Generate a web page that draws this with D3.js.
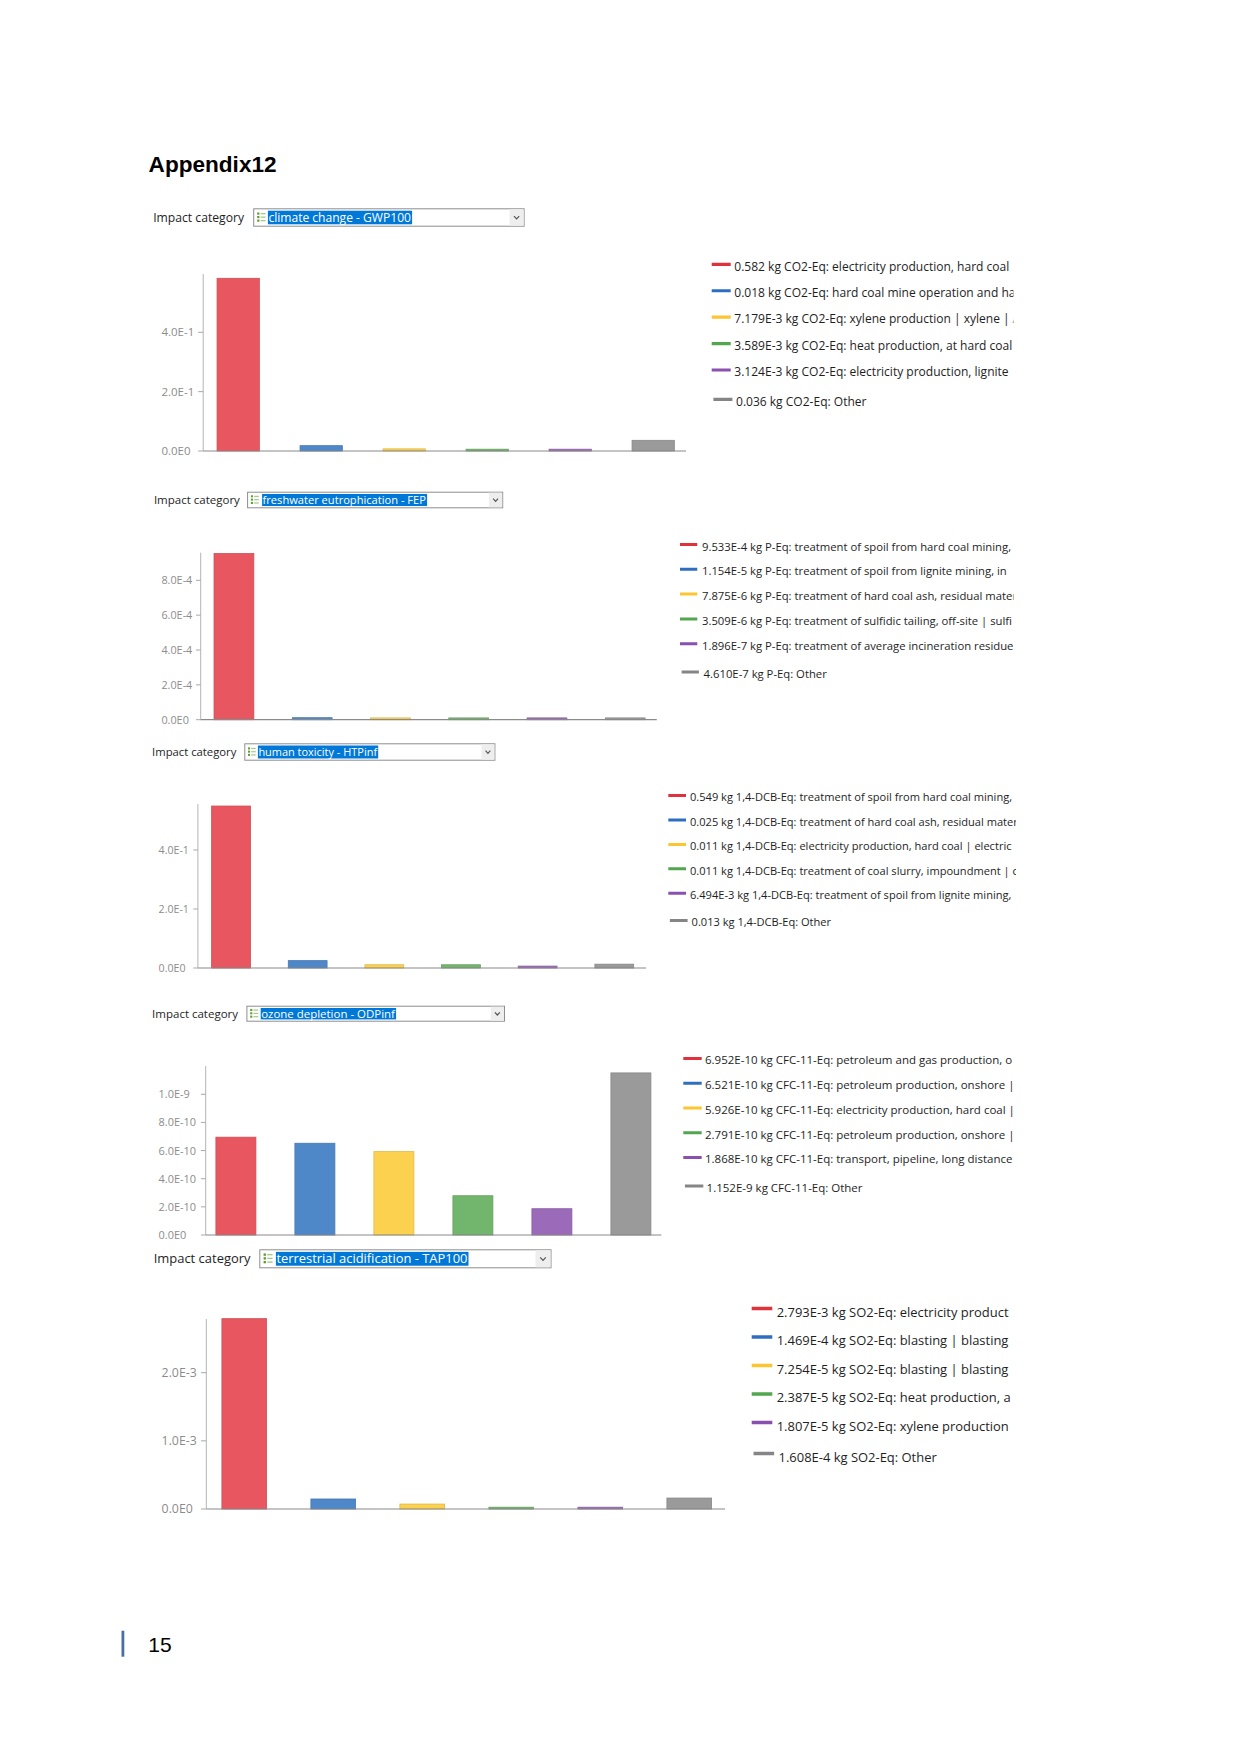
<!DOCTYPE html>
<html><head><meta charset="utf-8">
<script src="https://cdn.jsdelivr.net/npm/d3@7"></script>
<style>
html,body{margin:0;padding:0;background:#fff;}
svg{display:block;}
</style></head><body>
<svg id="page" width="1241" height="1754"></svg>
<script>
// ---------------- DATA ----------------
const pageTitle = "Appendix12";
const pageNumber = "15";
const selectorLabel = "Impact category";

const categories = [
  "climate change - GWP100",
  "freshwater eutrophication - FEP",
  "human toxicity - HTPinf",
  "ozone depletion - ODPinf",
  "terrestrial acidification - TAP100"
];
const units = ["kg CO2-Eq", "kg P-Eq", "kg 1,4-DCB-Eq", "kg CFC-11-Eq", "kg SO2-Eq"];

const climateValues = [0.582, 0.018, 7.179e-3, 3.589e-3, 3.124e-3, 0.036];
const eutroValues   = [9.533e-4, 1.154e-5, 7.875e-6, 3.509e-6, 1.896e-7, 4.610e-7];
const toxValues     = [0.549, 0.025, 0.011, 0.011, 6.494e-3, 0.013];
const ozoneValues   = [6.952e-10, 6.521e-10, 5.926e-10, 2.791e-10, 1.868e-10, 1.152e-9];
const acidValues    = [2.793e-3, 1.469e-4, 7.254e-5, 2.387e-5, 1.807e-5, 1.608e-4];

const climateNames = [
  "electricity production, hard coal",
  "hard coal mine operation and ha",
  "xylene production | xylene | A",
  "heat production, at hard coal",
  "electricity production, lignite",
  "Other"
];
const eutroNames = [
  "treatment of spoil from hard coal mining,",
  "treatment of spoil from lignite mining, in",
  "treatment of hard coal ash, residual mater",
  "treatment of sulfidic tailing, off-site | sulfi",
  "treatment of average incineration residue",
  "Other"
];
const toxNames = [
  "treatment of spoil from hard coal mining,",
  "treatment of hard coal ash, residual mater",
  "electricity production, hard coal | electric",
  "treatment of coal slurry, impoundment | c",
  "treatment of spoil from lignite mining,",
  "Other"
];
const ozoneNames = [
  "petroleum and gas production, o",
  "petroleum production, onshore |",
  "electricity production, hard coal |",
  "petroleum production, onshore |",
  "transport, pipeline, long distance",
  "Other"
];
const acidNames = [
  "electricity product",
  "blasting | blasting |",
  "blasting | blasting |",
  "heat production, a",
  "xylene production",
  "Other"
];

const climateTicks = [0, 0.2, 0.4];
const eutroTicks   = [0, 2e-4, 4e-4, 6e-4, 8e-4];
const toxTicks     = [0, 0.2, 0.4];
const ozoneTicks   = [0, 2e-10, 4e-10, 6e-10, 8e-10, 1e-9];
const acidTicks    = [0, 1e-3, 2e-3];

// ---------------- STYLE / LAYOUT ----------------
const barFill = ["#e8575f", "#4f88c9", "#fdd150", "#72b56c", "#9b6bb9", "#9a9a9a"];
const swatchColor = ["#e0323c", "#2e6ec0", "#fdc630", "#52a64e", "#8950b0", "#858585"];
const uiFont = "'Open Sans', 'Noto Sans', sans-serif";

const layouts = [
  {s:1.0, labelX:153.2, labelW:91, ddX:253.2, ddY:208.3, ddW:271.4, ddH:18.4, hlX:267.9, hlW:144.2,
   axisX:203.2, top:274, base:451, dMax:0.5965, x0:196.7, step:83, bw:42.3, axisEnd:686, tickX:161.4,
   swX:711.7, swLen:19, textX:734.3, rowY0:264.3, rowDy:26.43, lastGap:29.3, otherW:130.7, clipR:1013.5, textDy:6.3},
  {s:0.943, labelX:153.9, labelW:86, ddX:247.1, ddY:491.7, ddW:256.1, ddH:16.6, hlX:262.1, hlW:165,
   axisX:200.7, top:552.7, base:719.7, dMax:9.584e-4, x0:194.8, step:78.26, bw:39.8, axisEnd:656.8, tickX:161.4,
   swX:680, swLen:17.3, textX:702, rowY0:544.5, rowDy:24.8, lastGap:28.3, otherW:123.3, clipR:1013.5, textDy:6},
  {s:0.9235, labelX:152.1, labelW:84.3, ddX:244.3, ddY:743.3, ddW:251.1, ddH:17.4, hlX:257.9, hlW:120.3,
   axisX:197.9, top:804, base:968, dMax:0.5559, x0:192.7, step:76.65, bw:38.8, axisEnd:646, tickX:158.6,
   swX:668.3, swLen:17.7, textX:690, rowY0:795.5, rowDy:24.45, lastGap:27.3, otherW:139.7, clipR:1016, textDy:5.8},
  {s:0.952, labelX:152.1, labelW:86, ddX:246.4, ddY:1005.7, ddW:258.6, ddH:16, hlX:260.7, hlW:135.4,
   axisX:205.7, top:1066, base:1235, dMax:1.2011e-9, x0:196.4, step:79, bw:40, axisEnd:661.4, tickX:158.6,
   swX:683.3, swLen:18.4, textX:705, rowY0:1058.5, rowDy:24.75, lastGap:28.4, otherW:156, clipR:1013.5, textDy:5.8},
  {s:1.072, labelX:153.7, labelW:96.9, ddX:259.3, ddY:1249.3, ddW:292.2, ddH:19, hlX:275.9, hlW:192.6,
   axisX:206.3, top:1319, base:1509, dMax:2.788e-3, x0:199.75, step:89, bw:44.7, axisEnd:725, tickX:161.6,
   swX:751.7, swLen:20.6, textX:776.7, rowY0:1308.5, rowDy:28.5, lastGap:31, otherW:158.3, clipR:1013.5, textDy:8}
];

const panels = [
  {cat:categories[0], unit:units[0], values:climateValues, names:climateNames, ticks:climateTicks},
  {cat:categories[1], unit:units[1], values:eutroValues,   names:eutroNames,   ticks:eutroTicks},
  {cat:categories[2], unit:units[2], values:toxValues,     names:toxNames,     ticks:toxTicks},
  {cat:categories[3], unit:units[3], values:ozoneValues,   names:ozoneNames,   ticks:ozoneTicks},
  {cat:categories[4], unit:units[4], values:acidValues,    names:acidNames,    ticks:acidTicks}
];

// ---------------- HELPERS ----------------
function fitWidth(sel, target) {
  const w = sel.node().getComputedTextLength();
  const fs = parseFloat(sel.attr("font-size"));
  if (w > 0) sel.attr("font-size", (fs * target / w).toFixed(3));
  return fs * target / w;
}
function tickFmt(v) {
  if (v === 0) return "0.0E0";
  return v.toExponential(1).replace("e", "E").replace("+", "");
}
function valFmt(v) {
  return v >= 0.01 ? v.toFixed(3) : v.toExponential(3).replace("e", "E").replace("+", "");
}

// ---------------- DRAW ----------------
const svg = d3.select("#page");
svg.append("rect").attr("width", 1241).attr("height", 1754).attr("fill", "#fff");

const title = svg.append("text")
  .attr("x", 148.6).attr("y", 171.7)
  .attr("font-family", "'Liberation Sans', Arial, sans-serif")
  .attr("font-weight", "bold").attr("font-size", 23)
  .attr("fill", "#000").text(pageTitle);
fitWidth(title, 128);

const defs = svg.append("defs");

panels.forEach((p, k) => {
  const L = layouts[k];
  const g = svg.append("g");
  const cy = L.ddY + L.ddH / 2;

  // selector label
  const lab = g.append("text")
    .attr("x", L.labelX).attr("y", cy + 4.3 * L.s)
    .attr("font-family", uiFont).attr("font-size", 12)
    .attr("fill", "#1e1e1e").text(selectorLabel);
  fitWidth(lab, L.labelW);

  // dropdown box
  g.append("rect")
    .attr("x", L.ddX + 0.5).attr("y", L.ddY + 0.5)
    .attr("width", L.ddW - 1).attr("height", L.ddH - 1)
    .attr("fill", "#fff").attr("stroke", "#8e8e8e").attr("stroke-width", 1);
  const btnW = 14 * L.s;
  g.append("rect")
    .attr("x", L.ddX + L.ddW - 1 - btnW).attr("y", L.ddY + 1)
    .attr("width", btnW).attr("height", L.ddH - 2)
    .attr("fill", "#eeeeee");
  const chx = L.ddX + L.ddW - 1 - btnW / 2;
  g.append("path")
    .attr("d", `M${chx - 2.6 * L.s},${cy - 1.4 * L.s}L${chx},${cy + 1.4 * L.s}L${chx + 2.6 * L.s},${cy - 1.4 * L.s}`)
    .attr("fill", "none").attr("stroke", "#555").attr("stroke-width", 1.2);

  // small list icon
  const ix = L.ddX + 4 * L.s;
  for (let i = 0; i < 3; i++) {
    const iy = cy - 5 * L.s + i * 3.5 * L.s;
    g.append("rect").attr("x", ix).attr("y", iy).attr("width", 2.2 * L.s).attr("height", 2.2 * L.s).attr("fill", "#5c9e2e");
    g.append("rect").attr("x", ix + 3.4 * L.s).attr("y", iy + 0.5).attr("width", 5 * L.s).attr("height", 1.3 * L.s).attr("fill", "#a5c98a");
  }

  // highlighted selection
  g.append("rect")
    .attr("x", L.hlX).attr("y", L.ddY + 2.4 * L.s)
    .attr("width", L.hlW).attr("height", L.ddH - 4.8 * L.s)
    .attr("fill", "#0078d7");
  const sel = g.append("text")
    .attr("x", L.hlX + 0.5).attr("y", cy + 4.3 * L.s)
    .attr("font-family", uiFont).attr("font-size", 12)
    .attr("fill", "#fff").text(p.cat);
  fitWidth(sel, L.hlW - 1.5);

  // scales
  const x = d3.scaleBand()
    .domain(d3.range(p.values.length))
    .range([L.x0, L.x0 + L.step * p.values.length])
    .paddingInner(1 - L.bw / L.step)
    .paddingOuter((1 - L.bw / L.step) / 2);
  const y = d3.scaleLinear().domain([0, L.dMax]).range([L.base, L.top]);

  // y axis
  g.append("line")
    .attr("x1", L.axisX).attr("x2", L.axisX)
    .attr("y1", L.top).attr("y2", L.base)
    .attr("stroke", "#b4b4b4").attr("stroke-width", 1);
  const tickFs = 11.5 * L.s;
  p.ticks.forEach(t => {
    g.append("line")
      .attr("x1", L.axisX - 5 * L.s).attr("x2", L.axisX)
      .attr("y1", y(t)).attr("y2", y(t))
      .attr("stroke", "#a8a8a8").attr("stroke-width", 1);
    g.append("text")
      .attr("x", L.tickX).attr("y", y(t)).attr("dy", "0.36em")
      .attr("font-family", uiFont).attr("font-size", tickFs)
      .attr("fill", "#8c8c8c").text(tickFmt(t));
  });

  // bars
  g.selectAll("rect.bar").data(p.values).enter().append("rect")
    .attr("class", "bar")
    .attr("x", (d, i) => x(i))
    .attr("width", x.bandwidth())
    .attr("y", d => Math.min(y(d), L.base - 1.8))
    .attr("height", d => Math.max(L.base - y(d), 1.8))
    .attr("fill", (d, i) => barFill[i])
    .attr("stroke", (d, i) => d3.color(barFill[i]).darker(0.35))
    .attr("stroke-width", 0.8);

  // x axis
  g.append("line")
    .attr("x1", L.axisX).attr("x2", L.axisEnd)
    .attr("y1", L.base).attr("y2", L.base)
    .attr("stroke", "#8a8a8a").attr("stroke-width", 1.2);

  // legend
  const clipId = "legclip" + k;
  defs.append("clipPath").attr("id", clipId).append("rect")
    .attr("x", L.swX - 5).attr("y", L.rowY0 - 20).attr("width", L.clipR - L.swX + 5).attr("height", 220);
  const lg = g.append("g").attr("clip-path", `url(#${clipId})`);
  const rowY = i => (i < 5 ? L.rowY0 + i * L.rowDy : L.rowY0 + 4 * L.rowDy + L.lastGap);
  const shift = i => (i === 5 ? 1.7 * L.s : 0);
  const labels = p.values.map((v, i) => `${valFmt(v)} ${p.unit}: ${p.names[i]}`);

  // font fit from "Other" row
  const probe = lg.append("text").attr("font-family", uiFont).attr("font-size", 12).text(labels[5]);
  const legFs = fitWidth(probe, L.otherW);
  probe.remove();

  labels.forEach((txt, i) => {
    lg.append("line")
      .attr("x1", L.swX + shift(i)).attr("x2", L.swX + L.swLen + shift(i))
      .attr("y1", rowY(i)).attr("y2", rowY(i))
      .attr("stroke", swatchColor[i]).attr("stroke-width", 3.2 * L.s);
    lg.append("text")
      .attr("x", L.textX + shift(i)).attr("y", rowY(i) + L.textDy)
      .attr("font-family", uiFont).attr("font-size", legFs.toFixed(3))
      .attr("fill", "#1e1e1e").text(txt);
  });
});

// page number
svg.append("rect").attr("x", 121.5).attr("y", 1630.7).attr("width", 2.8).attr("height", 26)
  .attr("fill", "#4a6fa8");
svg.append("text").attr("x", 148.3).attr("y", 1651.7)
  .attr("font-family", "'Liberation Sans', Arial, sans-serif").attr("font-size", 21)
  .attr("fill", "#000").text(pageNumber);
</script>
</body></html>
